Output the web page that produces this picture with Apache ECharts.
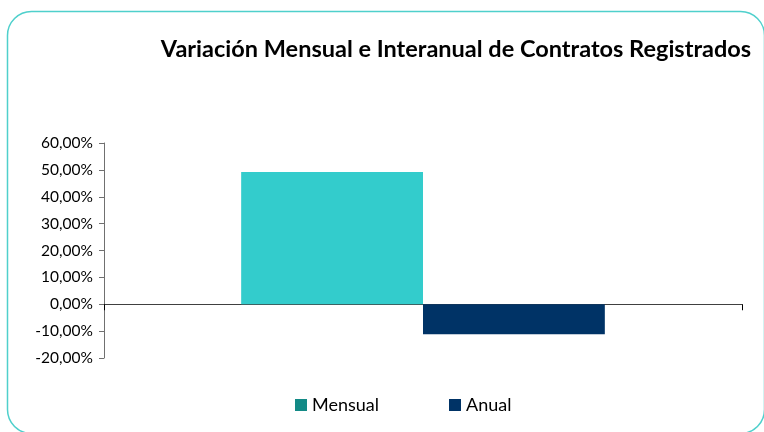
<!DOCTYPE html>
<html>
<head>
<meta charset="utf-8">
<script src="https://cdn.jsdelivr.net/npm/echarts@6/dist/echarts.min.js"></script>
<style>
  html, body { margin: 0; padding: 0; background: #fff; }
  #chart { width: 764px; height: 432px; }
</style>
</head>
<body>
<div id="chart"></div>
<script>
// datos (en %)
const categories = ['']
const seriesNames = ['Mensual', 'Anual']
const mensualValues = [49.2]
const anualValues = [-11.2]
const yTicks = { min: -20, max: 60, step: 10 }

const chart = echarts.init(document.getElementById('chart'))

const fmtPct = (v) => v.toFixed(2).replace('.', ',') + '%'

const option = {
  animation: false,
  textStyle: { fontFamily: 'Lato, "Open Sans", sans-serif' },
  graphic: [
    {
      type: 'rect',
      left: 5,
      top: 9,
      shape: { width: 757, height: 422, r: 24 },
      style: { fill: 'none', stroke: '#4fd0cc', lineWidth: 1.5 },
      silent: true
    }
  ],
  title: {
    text: 'Variación Mensual e Interanual de Contratos Registrados',
    left: 451,
    top: 32,
    textAlign: 'center',
    textStyle: { fontSize: 23.5, fontWeight: 'bold', color: '#000' }
  },
  legend: {
    bottom: 13,
    left: 290,
    itemGap: 70,
    itemWidth: 12,
    itemHeight: 12,
    icon: 'rect',
    textStyle: { fontSize: 18, color: '#000' },
    data: [
      { name: seriesNames[0], itemStyle: { color: '#138a86' } },
      { name: seriesNames[1], itemStyle: { color: '#003366' } }
    ]
  },
  grid: { left: 104, right: 22, top: 143, bottom: 74, containLabel: false },
  xAxis: {
    type: 'category',
    data: categories,
    axisLine: { onZero: true, lineStyle: { color: '#404040', width: 1 } },
    axisTick: { show: true, length: 6, lineStyle: { color: '#000' } },
    axisLabel: { show: false },
    splitLine: { show: false }
  },
  yAxis: {
    type: 'value',
    min: yTicks.min,
    max: yTicks.max,
    interval: yTicks.step,
    axisLine: { show: true, lineStyle: { color: '#707070' } },
    axisTick: { show: true, inside: false, length: 5, lineStyle: { color: '#707070' } },
    axisLabel: { formatter: fmtPct, fontSize: 15.5, color: '#000', margin: 11 },
    splitLine: { show: false }
  },
  series: [
    {
      name: seriesNames[0],
      type: 'bar',
      data: mensualValues,
      barGap: '0%',
      barCategoryGap: '43%',
      itemStyle: { color: '#33cccc' }
    },
    {
      name: seriesNames[1],
      type: 'bar',
      data: anualValues,
      itemStyle: { color: '#003366' }
    }
  ]
}

chart.setOption(option)
</script>
</body>
</html>
